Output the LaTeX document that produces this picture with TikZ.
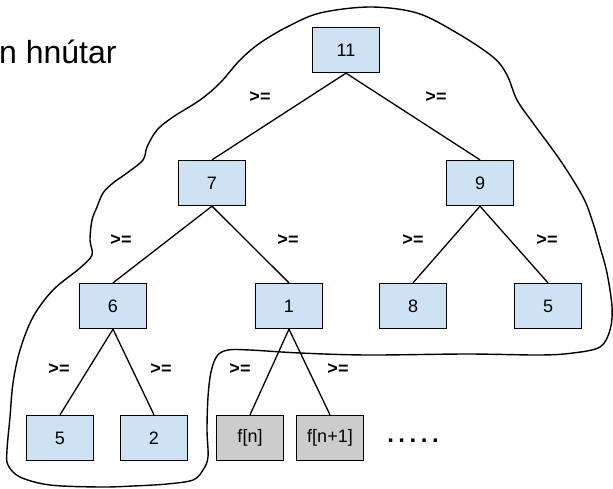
\documentclass[tikz,border=0pt]{standalone}
\usepackage{fontspec}
\setmainfont{Liberation Sans}
\definecolor{boxblue}{HTML}{CFE2F3}
\definecolor{boxgray}{HTML}{CCCCCC}
\begin{document}
\begin{tikzpicture}[x=1pt,y=-1pt,
  hbox/.style={draw=black,line width=1.3pt,fill=boxblue,minimum width=67pt,minimum height=45pt,inner sep=0pt,font=\fontsize{18}{21}\selectfont},
  gbox/.style={hbox,fill=boxgray},
  edge/.style={line width=1.3pt},
  gelabel/.style={inner sep=0pt,font=\fontsize{18}{21}\selectfont\bfseries},
  blob/.style={line width=1.4pt}]
\useasboundingbox (0,0) rectangle (613,488);
% outline
\draw[blob] plot[smooth cycle,tension=0.55] coordinates {
(370,7) (417,13) (457,33) (493,57) (507,75) (517,100) (533,123) (560,160) (583,197) (593,223) (600,247) (607,273) (612,307) (610,330) (600,347) (573,353) (540,355) (467,354) (367,355) (300,353) (250,350) (228,350) (217,356) (211,372) (208,397) (207,430) (208,457) (203,470) (193,480) (167,484) (133,486) (100,487) (50,485) (20,477) (8,465) (7,450) (10,417) (13,383) (20,350) (33,317) (53,290) (80,268) (92,255) (90,240) (92,220) (97,207) (103,193) (113,183) (127,173) (143,160) (147,147) (157,130) (173,117) (200,100) (220,83) (240,60) (260,43) (287,27) (320,13)};
% title
\node[anchor=base west,inner sep=0pt,font=\fontsize{32}{36}\selectfont] (title) at (-1,63) {n hnútar};
% nodes
\node[hbox] (n11) at (346,50) {11};
\node[hbox] (n7) at (212,183) {7};
\node[hbox] (n9) at (480,183) {9};
\node[hbox] (n6) at (113,306) {6};
\node[hbox] (n1) at (289,306) {1};
\node[hbox] (n8) at (413,306) {8};
\node[hbox] (n5r) at (548,306) {5};
\node[hbox] (n5l) at (60,438) {5};
\node[hbox] (n2) at (154,438) {2};
\node[gbox] (fn) at (250,438) {f[n]};
\node[gbox] (fn1) at (330,438) {f[n+1]};
\node[inner sep=0pt,font=\fontsize{24}{28}\selectfont\bfseries] (dots) at (413,441) {.\kern4.5pt.\kern4.5pt.\kern4.5pt.\kern4.5pt.};
% edges
\draw[edge] (n11.south) -- (n7.north);
\draw[edge] (n11.south) -- (n9.north);
\draw[edge] (n7.south) -- (n6.north);
\draw[edge] (n7.south) -- (n1.north);
\draw[edge] (n9.south) -- (n8.north);
\draw[edge] (n9.south) -- (n5r.north);
\draw[edge] (n6.south) -- (n5l.north);
\draw[edge] (n6.south) -- (n2.north);
\draw[edge] (n1.south) -- (fn.north);
\draw[edge] (n1.south) -- (fn1.north);
% labels
\node[gelabel] (l1) at (260,97) {>=};
\node[gelabel] (l2) at (436,97) {>=};
\node[gelabel] (l3) at (121,240) {>=};
\node[gelabel] (l4) at (288,240) {>=};
\node[gelabel] (l5) at (413,240) {>=};
\node[gelabel] (l6) at (547,240) {>=};
\node[gelabel] (l7) at (59,369) {>=};
\node[gelabel] (l8) at (161,369) {>=};
\node[gelabel] (l9) at (240,369) {>=};
\node[gelabel] (l10) at (338,369) {>=};
\end{tikzpicture}
\end{document}
